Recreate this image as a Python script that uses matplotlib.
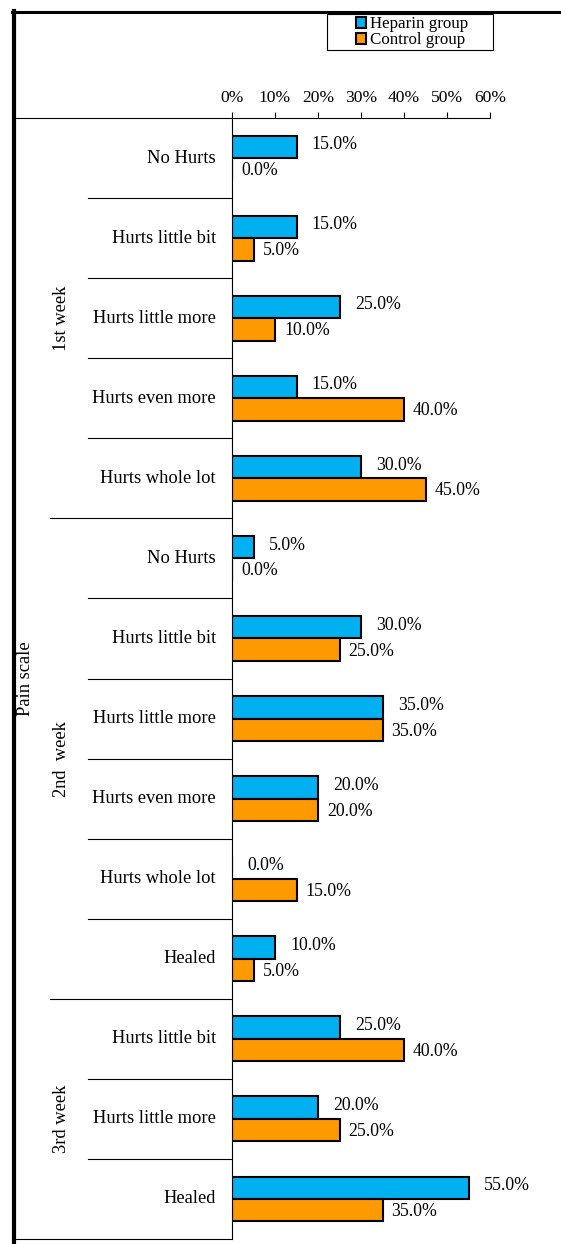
import numpy as np
import matplotlib
matplotlib.use("Agg")
import matplotlib.pyplot as plt
from matplotlib.patches import Patch, Rectangle
from matplotlib.lines import Line2D
from matplotlib.transforms import blended_transform_factory

plt.rcParams['font.family'] = ['Liberation Serif', 'DejaVu Serif']

weeks = ['1st week', '2nd  week', '3rd week']
week_items = [
    ['No Hurts', 'Hurts little bit', 'Hurts little more', 'Hurts even more', 'Hurts whole lot'],
    ['No Hurts', 'Hurts little bit', 'Hurts little more', 'Hurts even more', 'Hurts whole lot', 'Healed'],
    ['Hurts little bit', 'Hurts little more', 'Healed'],
]
heparin = [15, 15, 25, 15, 30, 5, 30, 35, 20, 0, 10, 25, 20, 55]
control = [0, 5, 10, 40, 45, 0, 25, 35, 20, 15, 5, 40, 25, 35]
xticks = [0, 10, 20, 30, 40, 50, 60]

blue = '#00B0F0'
orange = '#FF9900'

W, H = 561, 1244
fig = plt.figure(figsize=(W / 100, H / 100), dpi=100)
x0, x1 = 232, 490
y0, y1 = 118, 1239
ax = fig.add_axes([x0 / W, 1 - y1 / H, (x1 - x0) / W, (y1 - y0) / H])

labels = [it for grp in week_items for it in grp]
n = len(labels)
y = np.arange(n)
bh = 0.28
ax.barh(y - bh / 2, heparin, height=bh, color=blue, edgecolor='black', linewidth=1.5)
ax.barh(y + bh / 2, control, height=bh, color=orange, edgecolor='black', linewidth=1.5)

fs = 13.3
vfs = 12.8
for i in range(n):
    ax.annotate('%.1f%%' % heparin[i], (heparin[i], i - bh / 2), xytext=(11, 1.5),
                textcoords='offset points', va='center', ha='left', fontsize=vfs)
    ax.annotate('%.1f%%' % control[i], (control[i], i + bh / 2), xytext=(6.5, -1),
                textcoords='offset points', va='center', ha='left', fontsize=vfs)

ax.set_xlim(0, 60)
ax.set_ylim(n - 0.5, -0.5)
ax.xaxis.tick_top()
ax.set_xticks(xticks)
ax.set_xticklabels(['%d%%' % t for t in xticks], fontsize=12.6)
ax.tick_params(axis='x', direction='out', length=4.3, width=0.8, pad=4, colors='black')
ax.set_yticks([])
for s in ['right', 'bottom']:
    ax.spines[s].set_visible(False)
ax.spines['top'].set_linewidth(0.8)
ax.spines['left'].set_linewidth(0.8)

# hierarchical category axis
tr = blended_transform_factory(ax.transAxes, ax.transData)
def px(x):
    return (x - x0) / (x1 - x0)

for i, lab in enumerate(labels):
    ax.text(px(216), i, lab, transform=tr, ha='right', va='center', fontsize=fs)

start = 0
for w, grp in zip(weeks, week_items):
    mid = start + (len(grp) - 1) / 2
    ax.text(px(62), mid, w, transform=tr, ha='center', va='center', rotation=90, fontsize=fs)
    for k in range(1, len(grp)):
        ax.plot([px(88), 0], [start + k - 0.5] * 2, transform=tr, color='black', lw=0.8, clip_on=False)
    start += len(grp)
    if start < n:
        ax.plot([px(50), 0], [start - 0.5] * 2, transform=tr, color='black', lw=0.8, clip_on=False)

ax.plot([px(14), 0], [n - 0.5] * 2, transform=tr, color='black', lw=0.8, clip_on=False)
ax.plot([px(14), 0], [-0.5] * 2, transform=tr, color='black', lw=0.8, clip_on=False)
ax.text(px(26), (n - 1) / 2, 'Pain scale', transform=tr, ha='center', va='center', rotation=90, fontsize=fs)

# outer frame
fig.add_artist(Line2D([13.5 / W, 13.5 / W], [0, 1 - 11 / H], color='black', lw=3, transform=fig.transFigure))
fig.add_artist(Line2D([12 / W, 1], [1 - 12 / H, 1 - 12 / H], color='black', lw=2.2, transform=fig.transFigure))

# legend box
fig.add_artist(Rectangle((327 / W, 1 - 50 / H), (493 - 327) / W, (50 - 14) / H, transform=fig.transFigure,
                         facecolor='white', edgecolor='black', linewidth=0.8))
handles = [Patch(facecolor=blue, edgecolor='black', linewidth=1.5, label='Heparin group'),
           Patch(facecolor=orange, edgecolor='black', linewidth=1.5, label='Control group')]
leg = fig.legend(handles=handles, loc='center', bbox_to_anchor=(412 / W, 1 - 32.5 / H),
                 fontsize=12.2, frameon=False, handlelength=0.6, handleheight=0.6,
                 handletextpad=0.2, borderpad=0.1, labelspacing=0.0, borderaxespad=0)

fig.savefig('out.png', dpi=100)
